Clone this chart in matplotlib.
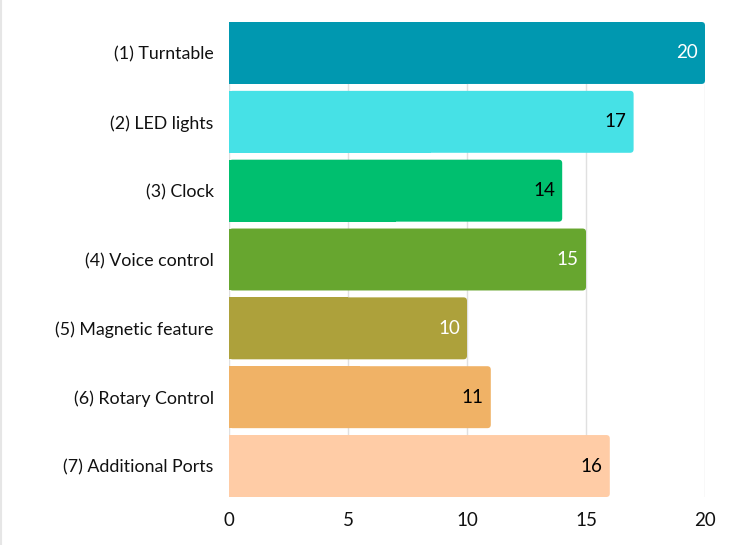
import matplotlib
matplotlib.use("Agg")
import matplotlib.pyplot as plt
from matplotlib.patches import FancyBboxPatch, Rectangle
from matplotlib.lines import Line2D

# chart data
features = [
    "(1) Turntable",
    "(2) LED lights",
    "(3) Clock",
    "(4) Voice control",
    "(5) Magnetic feature",
    "(6) Rotary Control",
    "(7) Additional Ports",
]
counts = [20, 17, 14, 15, 10, 11, 16]
bar_colors = ["#0098b0", "#46e1e6", "#00bf6f", "#67a62f", "#ada13b", "#f0b266", "#ffcca6"]
label_colors = ["white", "black", "black", "white", "white", "black", "black"]
x_ticks = [0, 5, 10, 15, 20]

plt.rcParams["font.family"] = ["Lato", "DejaVu Sans"]

fig = plt.figure(figsize=(7.5, 5.45), dpi=100)
# axes spans exactly the bar block: top 22 px, bottom 497 px
ax = fig.add_axes([229 / 750, 48 / 545, 476 / 750, 475 / 545])

bars = ax.barh(features, counts, height=0.9, color=bar_colors, zorder=2)
ax.set_xlim(0, 20)
ax.set_ylim(len(features) - 0.55, -0.45)

# rounded right corners: px -> data conversions
x_per_px = 20 / 476
y_per_px = (len(features) - 0.1) / 475
radius = 3.5 * x_per_px
for bar, col in zip(bars, bar_colors):
    x0, y0 = bar.get_x(), bar.get_y()
    w, h = bar.get_width(), bar.get_height()
    bar.set_visible(False)
    ax.add_patch(FancyBboxPatch((x0, y0), w, h,
                                boxstyle=f"round,pad=0,rounding_size={radius}",
                                mutation_aspect=y_per_px / x_per_px,
                                facecolor=col, edgecolor="none", zorder=2))
    ax.add_patch(Rectangle((x0, y0), w / 2, h, facecolor=col, edgecolor="none", zorder=2))

for i, (v, c) in enumerate(zip(counts, label_colors)):
    ax.text(v - 0.3, i, str(v), ha="right", va="center", fontsize=13.5, color=c, zorder=3)

ax.set_xticks(x_ticks)
ax.grid(axis="x", color="#e0e0e0", linewidth=1, zorder=0)
ax.set_axisbelow(True)
for s in ax.spines.values():
    s.set_visible(False)
ax.tick_params(axis="both", length=0, labelsize=13.5, colors="#111111")
ax.tick_params(axis="y", labelsize=12.8, pad=11)
ax.tick_params(axis="x", pad=11)

# faint border on the left edge of the figure
fig.add_artist(Line2D([0.0007, 0.0007], [0, 1], color="#e6e6e6", linewidth=1.5,
                      transform=fig.transFigure))

fig.savefig("out.png", dpi=100)
